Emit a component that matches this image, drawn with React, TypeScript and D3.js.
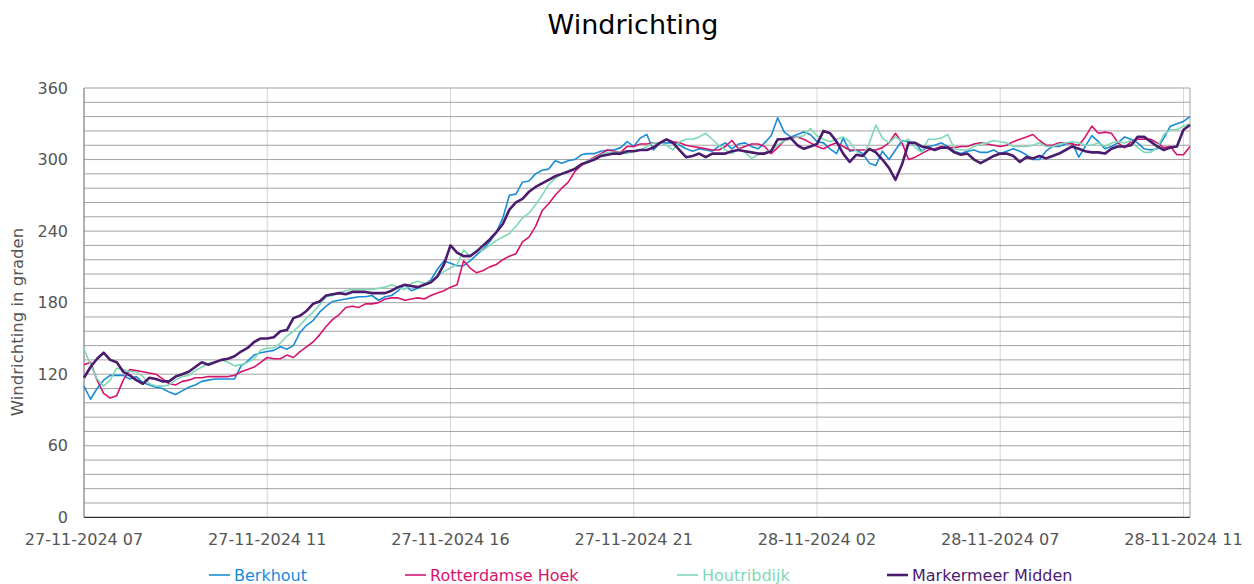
import React from "react";
import * as d3 from "d3";

// 10-minute samples from 27-11-2024 07:00
const tickLabels = [
  "27-11-2024 07",
  "27-11-2024 11",
  "27-11-2024 16",
  "27-11-2024 21",
  "28-11-2024 02",
  "28-11-2024 07",
  "28-11-2024 11",
];
const tickIndices = [0, 28, 56, 84, 112, 140, 168];
const yTicks = [0, 60, 120, 180, 240, 300, 360];

const berkhout = [
  110, 99, 108, 115, 119, 119, 119, 116, 118, 113, 111, 109, 108, 105, 103, 106, 109, 111, 114, 115, 116, 116, 116, 116, 127, 131, 136, 138,
  139, 140, 143, 141, 144, 155, 161, 165, 172, 177, 181, 182, 183, 184, 185, 185, 186, 182, 185, 186, 190, 195, 190, 192, 195, 199, 208, 215,
  213, 211, 211, 215, 220, 225, 231, 239, 251, 270, 271, 281, 282, 288, 291, 292, 299, 297, 299, 300, 304, 305, 305, 307, 308, 308, 310, 315,
  311, 318, 321, 308, 314, 314, 314, 312, 309, 307, 309, 308, 307, 311, 314, 309, 313, 314, 311, 309, 314, 320, 335, 323, 319, 321, 323, 321,
  315, 314, 309, 305, 318, 307, 308, 305, 297, 295, 307, 300, 308, 316, 315, 314, 307, 311, 312, 314, 311, 307, 305, 307, 308, 306, 306, 308,
  305, 307, 309, 307, 304, 300, 300, 307, 311, 311, 313, 314, 302, 311, 320, 315, 309, 311, 314, 319, 317, 314, 309, 308, 309, 318, 328, 330, 332, 336,
];
const rotterdamseHoek = [
  128, 130, 115, 104, 100, 102, 115, 124, 123, 122, 121, 120, 116, 112, 111, 114, 115, 117, 117, 118, 118, 118, 118, 119, 122, 124, 126, 130,
  134, 133, 133, 136, 134, 139, 143, 147, 153, 160, 166, 170, 176, 177, 176, 179, 179, 180, 183, 184, 184, 182, 183, 184, 183, 186, 188, 190,
  193, 195, 215, 209, 205, 207, 210, 212, 216, 219, 221, 231, 235, 244, 257, 263, 270, 276, 281, 290, 295, 299, 302, 305, 308, 307, 306, 311,
  311, 313, 313, 314, 314, 317, 315, 314, 312, 311, 310, 309, 308, 308, 311, 316, 309, 311, 313, 313, 311, 305, 310, 316, 318, 319, 317, 314,
  311, 309, 312, 314, 311, 308, 308, 308, 308, 308, 310, 314, 322, 314, 300, 302, 305, 308, 309, 311, 310, 310, 311, 311, 313, 314, 313, 312,
  311, 312, 315, 317, 319, 321, 316, 312, 312, 314, 314, 313, 312, 319, 328, 322, 323, 322, 314, 310, 315, 317, 317, 317, 314, 310, 311, 304, 304, 311,
];
const houtribdijk = [
  141, 128, 116, 110, 115, 125, 124, 122, 122, 118, 112, 110, 110, 111, 115, 118, 119, 123, 126, 129, 130, 132, 130, 127, 128, 130, 133, 140,
  142, 142, 146, 152, 156, 161, 167, 172, 178, 185, 186, 188, 190, 191, 191, 191, 191, 192, 193, 195, 193, 191, 196, 198, 196, 198, 202, 206,
  209, 212, 224, 219, 223, 224, 228, 232, 235, 238, 244, 251, 255, 262, 270, 279, 284, 288, 290, 293, 296, 299, 301, 304, 306, 306, 306, 305,
  307, 308, 311, 314, 314, 312, 308, 315, 317, 317, 319, 322, 317, 312, 308, 305, 309, 306, 301, 304, 306, 308, 312, 316, 317, 319, 320, 326,
  320, 317, 315, 317, 319, 315, 307, 303, 314, 329, 318, 314, 319, 315, 317, 310, 306, 317, 317, 318, 321, 309, 308, 308, 311, 313, 314, 316,
  315, 314, 311, 311, 311, 312, 314, 311, 311, 313, 314, 315, 314, 312, 312, 314, 311, 314, 315, 314, 316, 310, 306, 306, 310, 321, 325, 325, 328, 330,
];
const markermeerMidden = [
  117, 126, 133, 138, 132, 130, 122, 119, 115, 112, 117, 116, 114, 114, 118, 120, 122, 126, 130, 128, 130, 132, 133, 135, 139, 142, 147, 150,
  150, 151, 156, 157, 167, 169, 173, 179, 181, 186, 187, 188, 187, 189, 189, 189, 188, 188, 188, 190, 193, 195, 194, 193, 195, 197, 202, 212,
  228, 222, 219, 219, 223, 228, 233, 239, 246, 258, 264, 267, 273, 277, 280, 283, 286, 288, 290, 292, 296, 298, 300, 303, 304, 305, 305, 307,
  307, 308, 308, 310, 314, 317, 314, 308, 302, 303, 305, 302, 305, 305, 305, 307, 308, 307, 306, 305, 305, 307, 317, 317, 318, 312, 309, 311,
  313, 324, 322, 315, 305, 298, 304, 303, 309, 306, 300, 293, 283, 296, 314, 314, 311, 310, 308, 310, 310, 306, 304, 305, 300, 297, 300, 303,
  305, 305, 303, 298, 302, 301, 303, 301, 303, 305, 308, 311, 309, 307, 306, 306, 305, 309, 311, 311, 312, 319, 319, 315, 311, 308, 310, 311, 325, 329,
];

const seriesNames = ["Berkhout", "Rotterdamse Hoek", "Houtribdijk", "Markermeer Midden"];
const seriesData = [berkhout, rotterdamseHoek, houtribdijk, markermeerMidden];
const seriesColors = ["#1a8bd6", "#d6146e", "#7fd8b6", "#4b1c6e"];
const seriesWidths = [1.6, 1.6, 1.6, 2.6];

const W = 1254;
const H = 584;
const left = 84;
const right = 1190;
const top = 88;
const bottom = 517.3;
const font = "'DejaVu Sans', Verdana, sans-serif";

export default function App() {
  const n = berkhout.length;
  const x = d3.scaleLinear().domain([0, n - 1]).range([left, right]);
  const y = d3.scaleLinear().domain([0, 360]).range([bottom, top]);
  const minor = d3.range(12, 361, 12);
  const line = d3
    .line<number>()
    .x((_, i) => x(i))
    .y((d) => y(d));

  const legendX = [209, 405, 677, 887];

  return (
    <svg
      width={W}
      height={H}
      style={{ position: "absolute", left: 0, top: 0, background: "#fff" }}
      fontFamily={font}
    >
      <text x={633} y={34} textAnchor="middle" fontSize={27} fill="#000">
        Windrichting
      </text>

      {/* vertical gridlines */}
      {tickIndices.map((t) => (
        <line key={"v" + t} x1={x(t)} x2={x(t)} y1={top} y2={bottom} stroke="#d6d6d6" strokeWidth={1} />
      ))}
      {/* horizontal gridlines */}
      {minor.map((v) => (
        <line key={"h" + v} x1={left} x2={right} y1={y(v)} y2={y(v)} stroke="#a3a3a3" strokeWidth={1} />
      ))}
      {/* right border */}
      <line x1={right} x2={right} y1={top} y2={bottom} stroke="#a3a3a3" strokeWidth={1} />
      {/* axes */}
      <line x1={left} x2={left} y1={top} y2={bottom} stroke="#8a8a8a" strokeWidth={1.2} />
      <line x1={left} x2={right} y1={bottom} y2={bottom} stroke="#333" strokeWidth={1.2} />

      {yTicks.map((v) => (
        <text key={"yt" + v} x={68} y={y(v)} dy="0.35em" textAnchor="end" fontSize={16} fill="#555">
          {v}
        </text>
      ))}
      {tickIndices.map((t, i) => (
        <text key={"xt" + t} x={x(t)} y={539} dy="0.35em" textAnchor="middle" fontSize={16} fill="#555">
          {tickLabels[i]}
        </text>
      ))}
      <text
        transform={`translate(17,322) rotate(-90)`}
        textAnchor="middle"
        dy="0.35em"
        fontSize={16.5}
        fill="#555"
      >
        Windrichting in graden
      </text>

      {seriesData.map((d, i) => (
        <path
          key={seriesNames[i]}
          d={line(d) || ""}
          fill="none"
          stroke={seriesColors[i]}
          strokeWidth={seriesWidths[i]}
          strokeLinejoin="round"
        />
      ))}

      {seriesNames.map((name, i) => (
        <g key={"lg" + name} transform={`translate(${legendX[i]},575)`}>
          <line x1={0} x2={21} y1={0} y2={0} stroke={seriesColors[i]} strokeWidth={seriesWidths[i]} />
          <text x={25} y={0} dy="0.35em" fontSize={16} fill={seriesColors[i]}>
            {name}
          </text>
        </g>
      ))}
    </svg>
  );
}
